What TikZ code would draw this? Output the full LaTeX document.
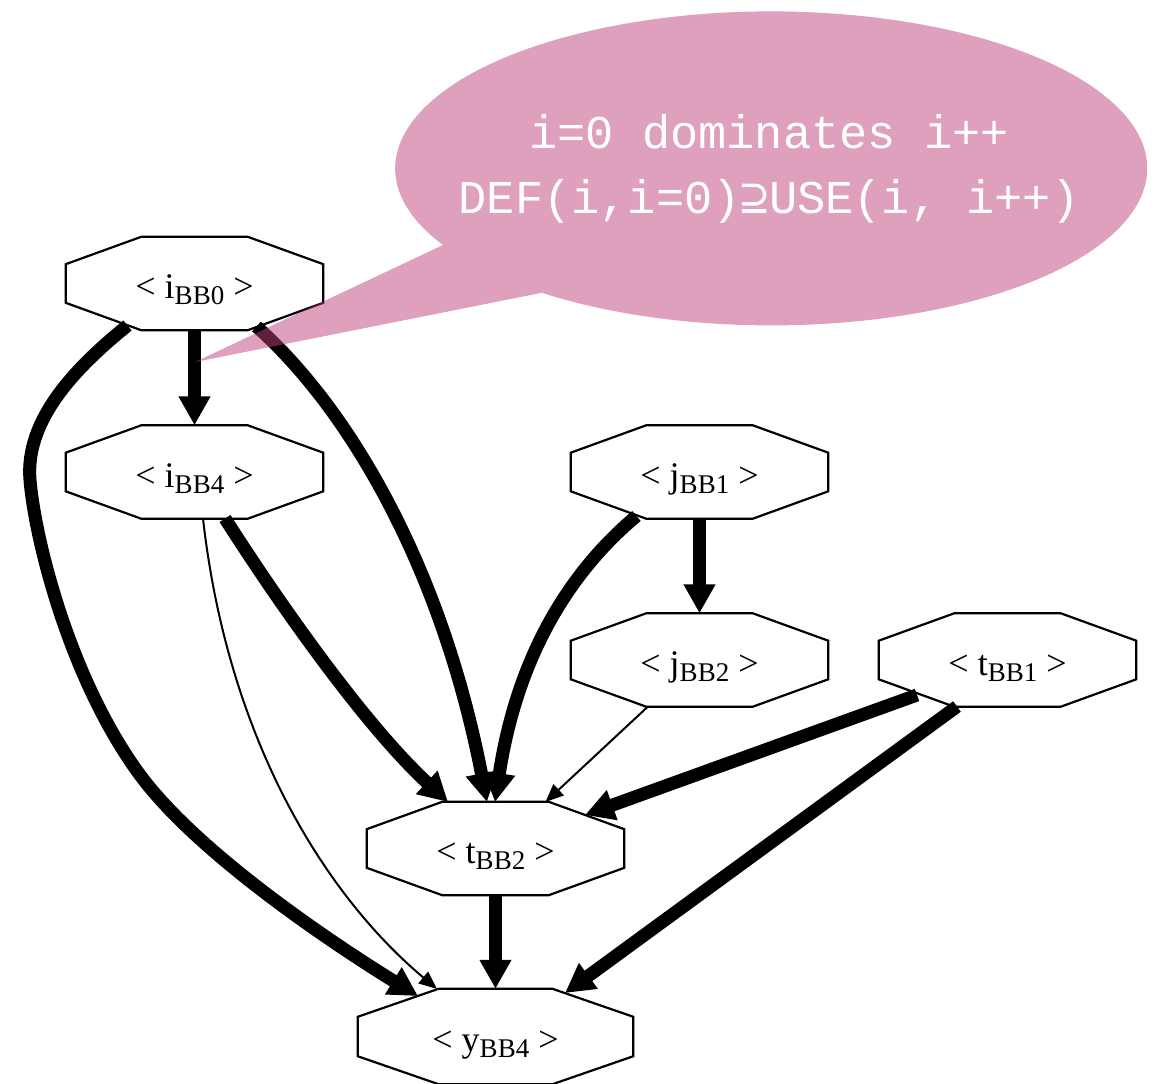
\documentclass[tikz,border=0pt]{standalone}
\usepackage{fontspec}
\setmainfont{Liberation Serif}
\newfontfamily\notefont{Liberation Mono}
\newfontfamily\relfont{DejaVu Sans Mono}
\usetikzlibrary{arrows.meta,calc}
\definecolor{notepink}{RGB}{191,65,123}
\newcommand\bbsub[1]{\raisebox{-6pt}{\fontsize{27}{27}\selectfont #1}}

\begin{document}
\begin{tikzpicture}[x=1pt,y=-1pt,
  octnode/.style={rectangle, inner sep=0pt, minimum width=257pt, minimum height=93pt,
    font=\fontsize{36}{36}\selectfont, text height=35pt, text depth=5pt},
  octline/.style={line width=2.2pt, line join=miter},
  heavy/.style={line width=13pt, -{Triangle[length=29pt,width=30pt]}},
  light/.style={line width=2pt, -{Triangle[length=18pt,width=15pt]}},
  notetext/.style={font=\notefont\fontsize{47}{47}\selectfont, text=white, anchor=base, inner sep=0pt}
]
\useasboundingbox (0,0) rectangle (1154,1084);

% variable nodes
\node[octnode] (ib0) at (194.5,283.5) {< i\bbsub{BB0} >};
\node[octnode] (ib4) at (194.5,472) {< i\bbsub{BB4} >};
\node[octnode] (jb1) at (699.5,472) {< j\bbsub{BB1} >};
\node[octnode] (jb2) at (699.5,660) {< j\bbsub{BB2} >};
\node[octnode] (tb1) at (1007.5,660) {< t\bbsub{BB1} >};
\node[octnode] (tb2) at (495.5,848.5) {< t\bbsub{BB2} >};
\node[octnode, minimum width=275pt, minimum height=95pt] (yb4) at (495.5,1036.5) {< y\bbsub{BB4} >};

% octagonal outlines
\foreach \n in {ib0,ib4,jb1,jb2,tb1,tb2,yb4}{
  \draw[octline] ($(\n.north west)!0.293!(\n.north east)$) -- ($(\n.north west)!0.707!(\n.north east)$)
    -- ($(\n.north east)!0.293!(\n.south east)$) -- ($(\n.north east)!0.707!(\n.south east)$)
    -- ($(\n.south west)!0.707!(\n.south east)$) -- ($(\n.south west)!0.293!(\n.south east)$)
    -- ($(\n.north west)!0.707!(\n.south west)$) -- ($(\n.north west)!0.293!(\n.south west)$) -- cycle;
}

% edge end points on the octagon borders
\coordinate (e2s) at ($(ib0)+(-67,42)$);
\coordinate (e2t) at ($(yb4)+(-77.5,-40.5)$);
\coordinate (e3s) at ($(ib0)+(62,43)$);
\coordinate (e3t) at ($(tb2)+(-8.5,-46.5)$);
\coordinate (e4s) at ($(ib4)+(30.5,46.5)$);
\coordinate (e4t) at ($(tb2)+(-47.5,-46.5)$);
\coordinate (e5s) at ($(ib4)+(8.5,46.5)$);
\coordinate (e5t) at ($(yb4)+(-58.5,-47.5)$);
\coordinate (e7s) at ($(jb1)+(-63,44)$);
\coordinate (e7t) at ($(tb2)+(-0.5,-46.5)$);
\coordinate (e8s) at ($(jb2)+(-51.5,46.5)$);
\coordinate (e8t) at ($(tb2)+(50,-46.5)$);
\coordinate (e9s) at ($(tb1)+(-90.5,35)$);
\coordinate (e9t) at ($(tb2)+(89.5,-33.5)$);
\coordinate (e10s) at ($(tb1)+(-50.5,46.5)$);
\coordinate (e10t) at ($(yb4)+(69.5,-43.5)$);

% dependence edges
\draw[heavy] (ib0.south) -- (ib4.north);
\draw[heavy] (e2s) .. controls (75,368) and (25,420) .. (30,480)
  .. controls (35,540) and (70,680) .. (140,775)
  .. controls (200,856) and (340,948) .. (e2t);
\draw[heavy] (e3s) .. controls (345,405) and (440,560) .. (e3t);
\draw[heavy] (e4s) .. controls (290,620) and (370,730) .. (e4t);
\draw[light] (e5s) .. controls (228,740) and (325,895) .. (e5t);
\draw[heavy] (jb1.south) -- (jb2.north);
\draw[heavy] (e7s) .. controls (560,580) and (515,670) .. (e7t);
\draw[light] (e8s) -- (e8t);
\draw[heavy] (e9s) -- (e9t);
\draw[heavy] (e10s) -- (e10t);
\draw[heavy] (tb2.south) -- (yb4.north);

% speech bubble
\fill[notepink, opacity=0.5] (195,362) -- (443,245)
  arc[start angle=150.8, end angle=487.6, x radius=376, y radius=157] -- cycle;
\node[notetext] (note1) at (769,148) {i=0 dominates i++};
\node[notetext] (note2) at (769,213) {DEF(i,i=0){\relfont ⊇}USE(i, i++)};
\end{tikzpicture}
\end{document}
